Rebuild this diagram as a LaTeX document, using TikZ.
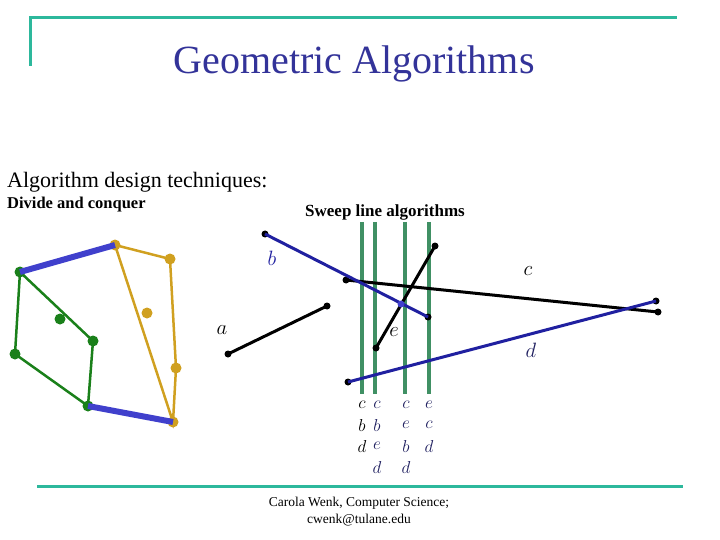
\documentclass[tikz,border=0pt]{standalone}
\usepackage{fontspec}
\setmainfont{Liberation Serif}
\definecolor{teal1}{RGB}{45,184,156}
\definecolor{titleblue}{RGB}{51,51,153}
\definecolor{hullgreen}{RGB}{26,128,26}
\definecolor{hullgold}{RGB}{208,160,32}
\definecolor{bridge}{RGB}{64,64,204}
\definecolor{segblue}{RGB}{32,32,160}
\definecolor{sweep}{RGB}{64,144,100}
\definecolor{lab}{RGB}{32,32,96}
\begin{document}
\begin{tikzpicture}[x=1pt,y=-1pt,
  rule/.style={teal1,line width=3pt},
  gdot/.style={circle,fill=hullgreen,inner sep=0pt,minimum size=11pt},
  ydot/.style={circle,fill=hullgold,inner sep=0pt,minimum size=11pt},
  bdot/.style={circle,fill=black,inner sep=0pt,minimum size=7pt},
  gedge/.style={hullgreen,line width=2.5pt},
  yedge/.style={hullgold,line width=2.5pt},
  bridgeedge/.style={bridge,line width=6pt},
  blackseg/.style={black,line width=3pt},
  blueseg/.style={segblue,line width=3pt},
  sweepline/.style={sweep,line width=4pt},
  seglab/.style={font=\fontsize{20}{20}\selectfont,inner sep=0pt},
  stat/.style={font=\fontsize{18}{18}\selectfont,inner sep=0pt}]
\useasboundingbox (0,0) rectangle (720,540);
% header / footer rules
\coordinate (t1) at (30,66);
\coordinate (t2) at (30,18);
\coordinate (t3) at (677,18);
\draw[rule] (t1) -- (t2) -- (t3);
\coordinate (f1) at (37,486);
\coordinate (f2) at (683,486);
\draw[rule] (f1) -- (f2);
\node[titleblue,font=\fontsize{40}{40}\selectfont] (title) at (354,64) {Geometric Algorithms};
\node[anchor=base west,font=\fontsize{22}{22}\selectfont,inner sep=0pt] (adt) at (7,188) {Algorithm design techniques:};
\node[anchor=base west,font=\fontsize{16.5}{16.5}\selectfont\bfseries,inner sep=0pt] (dc) at (7,209) {Divide and conquer};
\node[anchor=base west,font=\fontsize{17}{17}\selectfont\bfseries,inner sep=0pt] (sl) at (305,217) {Sweep line algorithms};
\node[font=\fontsize{13.5}{17}\selectfont,align=center] (foot) at (359,512) {Carola Wenk, Computer Science;\\cwenk@tulane.edu};
% divide and conquer
\node[gdot] (G1) at (20,272) {};
\node[gdot] (G2) at (60,319) {};
\node[gdot] (G3) at (93,341) {};
\node[gdot] (G4) at (15,354) {};
\node[gdot] (G5) at (88,406) {};
\node[ydot] (Y1) at (115,245) {};
\node[ydot] (Y2) at (170,259) {};
\node[ydot] (Y3) at (147,313) {};
\node[ydot] (Y4) at (176,368) {};
\node[ydot] (Y5) at (173,422) {};
\draw[gedge] (G1.center) -- (G3.center) -- (G5.center) -- (G4.center) -- cycle;
\draw[yedge] (Y1.center) -- (Y2.center) -- (Y4.center) -- (Y5.center) -- cycle;
\draw[bridgeedge] (G1.center) -- (Y1.center);
\draw[bridgeedge] (G5.center) -- (Y5.center);
% sweep lines
\foreach \x/\n in {362/s1,375/s2,405/s3,429/s4}{
  \coordinate (\n t) at (\x,222);
  \coordinate (\n b) at (\x,394);
  \draw[sweepline] (\n t) -- (\n b);
}
% segments
\node[bdot] (a1) at (228,354) {};
\node[bdot] (a2) at (327,306) {};
\node[bdot] (b1) at (265,234) {};
\node[bdot] (b2) at (428,317) {};
\node[bdot] (c1) at (346,280) {};
\node[bdot] (c2) at (658,312) {};
\node[bdot] (d1) at (348,382) {};
\node[bdot] (d2) at (656,301) {};
\node[bdot] (e1) at (376,348) {};
\node[bdot] (e2) at (435,246) {};
\draw[blackseg] (a1.center) -- (a2.center);
\draw[blackseg] (c1.center) -- (c2.center);
\draw[blackseg] (e1.center) -- (e2.center);
\draw[blueseg] (b1.center) -- (b2.center);
\draw[blueseg] (d1.center) -- (d2.center);
\node[circle,fill=bridge,inner sep=0pt,minimum size=7pt] (x) at (401,304) {};
% labels
\node[seglab,segblue] (lb) at (272,258) {$b$};
\node[seglab] (lc) at (528,271) {$c$};
\node[seglab] (la) at (222,330) {$a$};
\node[seglab] (le) at (394,332) {$e$};
\node[seglab,lab] (ld) at (531,350) {$d$};
% status
\node[stat] (s11) at (362,405) {$c$};
\node[stat] (s12) at (362,425) {$b$};
\node[stat] (s13) at (362,446) {$d$};
\node[stat,lab] (s21) at (377,405) {$c$};
\node[stat,lab] (s22) at (377,425) {$b$};
\node[stat,lab] (s23) at (377,446) {$e$};
\node[stat,lab] (s24) at (377,467) {$d$};
\node[stat,lab] (s31) at (406,405) {$c$};
\node[stat,lab] (s32) at (406,425) {$e$};
\node[stat,lab] (s33) at (406,446) {$b$};
\node[stat,lab] (s34) at (406,467) {$d$};
\node[stat,lab] (s41) at (429,405) {$e$};
\node[stat,lab] (s42) at (429,425) {$c$};
\node[stat,lab] (s43) at (429,446) {$d$};
\end{tikzpicture}
\end{document}
